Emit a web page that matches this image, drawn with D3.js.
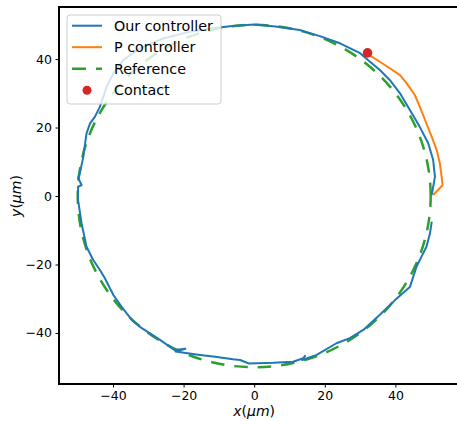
<!DOCTYPE html>
<html>
<head>
<meta charset="utf-8">
<script src="https://cdn.jsdelivr.net/npm/d3@7"></script>
<style>
body { margin: 0; background: #fff; }
text { font-family: "DejaVu Sans", sans-serif; fill: #000; }
</style>
</head>
<body>
<script>
// trajectories (x, y in um)
var ourX = [50.3, 51.2, 50.7, 49.3, 46.9, 44.1, 41.3, 38.4, 35.6, 32.8, 30, 24.3, 18.6, 12.9, 6, 0,
    -6.9, -11.6, -18.2, -25.8, -32.4, -37.1, -39.9, -41.8, -43.7, -45.1, -46.5, -47.5, -47.9, -48.4,
    -49.4, -49.9, -48.9, -49.9, -49.9, -48.9, -47.5, -45.6, -43.7, -42.3, -39.9, -37.6, -34.7, -32.4,
    -29.5, -26.7, -22.5, -19.5, -22.3, -15.4, -11.6, -6, -4, -1.5, 5.4, 11, 13.9, 14.4, 13.6, 17.7,
    23.3, 27.1, 30.9, 35.6, 39.9, 44.1, 46, 47.4, 48.8, 49.8, 50.3];
var ourY = [0.3, 5.6, 10.5, 15.4, 20.2, 25.1, 30.0, 33.9, 36.8, 39.2, 41.7, 44.6, 46.7, 48.5, 49.5, 50.1,
    49.6, 49, 48, 46, 43.1, 39.7, 35.8, 31.9, 26.1, 23.2, 21.2, 18.3, 15.4, 11.5,
    6.6, 5.3, 3.2, 2.7, -1.2, -8, -14.8, -18.7, -21.6, -24, -28.9, -32.3, -36.2, -38.2,
    -40.1, -42, -45, -44.6, -45.4, -46.4, -46.9, -47.7, -47.9, -48.9, -48.7, -48.4, -47.4, -46.7, -47.9, -46.4,
    -43, -41.5, -39.1, -34.7, -30.4, -26.6, -20.6, -17.7, -14.8, -10.9, -7.5];

var pX = [50.7, 52.1, 53.4, 53.1, 52.6, 51.7, 50.3, 48.4, 46.9, 45.5, 43.2, 41.3, 38.4, 35.6, 33.3, 32.1];
var pY = [0.3, 1.8, 3.2, 5.6, 9.5, 13.4, 17.3, 22.2, 26.1, 29.5, 32.9, 35.3, 37.3, 39.2, 40.7, 41.8];

var refRadius = 50;
var contact = [32.1, 41.8];

var xTicks = [-40, -20, 0, 20, 40];
var yTicks = [-40, -20, 0, 20, 40];
var legendNames = ["Our controller", "P controller", "Reference", "Contact"];

var width = 457, height = 421;
var svg = d3.select("body").append("svg")
    .attr("width", width)
    .attr("height", height);

var x = d3.scaleLinear().domain([-55.3, 58.5]).range([59, 460.7]);
var y = d3.scaleLinear().domain([-54.9, 55.2]).range([384, 7]);

var blue = "#1f77b4", orange = "#ff7f0e", green = "#2ca02c", red = "#d62728";

var line = d3.line()
    .x(function(d){ return x(d[0]); })
    .y(function(d){ return y(d[1]); });

// reference circle, drawn ccw so the dashes start like the original
svg.append("g")
    .attr("transform", "translate(" + x(0) + "," + y(0) + ") scale(1,-1)")
    .append("ellipse")
    .attr("rx", x(refRadius) - x(0))
    .attr("ry", y(0) - y(refRadius))
    .style("fill", "none")
    .style("stroke", green)
    .style("stroke-width", 2.5)
    .style("stroke-dasharray", "13.5,10");

svg.append("path")
    .datum(d3.zip(ourX, ourY))
    .attr("d", line)
    .style("fill", "none")
    .style("stroke", blue)
    .style("stroke-width", 2)
    .style("stroke-linejoin", "round");

svg.append("path")
    .datum(d3.zip(pX, pY))
    .attr("d", line)
    .style("fill", "none")
    .style("stroke", orange)
    .style("stroke-width", 2)
    .style("stroke-linejoin", "round");

svg.append("circle")
    .attr("cx", x(contact[0]))
    .attr("cy", y(contact[1]))
    .attr("r", 4.8)
    .style("fill", red);

// axes
var xAxis = svg.append("g")
    .attr("transform", "translate(0," + y.range()[0] + ")")
    .call(d3.axisBottom(x).tickValues(xTicks).tickSize(3.5).tickPadding(3.5)
        .tickFormat(function(d){ return d < 0 ? "\u2212" + (-d) : d; }));
var yAxis = svg.append("g")
    .attr("transform", "translate(" + x.range()[0] + ",0)")
    .call(d3.axisLeft(y).tickValues(yTicks).tickSize(3.5).tickPadding(3.5)
        .tickFormat(function(d){ return d < 0 ? "\u2212" + (-d) : d; }));
[xAxis, yAxis].forEach(function(g){
    g.select(".domain").remove();
    g.selectAll("line").style("stroke", "#000").style("stroke-width", 1);
    g.selectAll("text").style("font-size", "12.5px").style("font-family", "DejaVu Sans");
});

svg.append("rect")
    .attr("x", x.range()[0])
    .attr("y", y.range()[1])
    .attr("width", x.range()[1] - x.range()[0])
    .attr("height", y.range()[0] - y.range()[1])
    .style("fill", "none")
    .style("stroke", "#000")
    .style("stroke-width", 2);

// axis labels (mathtext style)
function mathLabel(sel, v) {
    sel.append("tspan").style("font-style", "italic").text(v);
    sel.append("tspan").text("(");
    sel.append("tspan").style("font-style", "italic").text("\u03bcm");
    sel.append("tspan").text(")");
}
svg.append("text")
    .attr("x", x(0))
    .attr("y", 416)
    .attr("text-anchor", "middle")
    .style("font-size", "14px")
    .call(mathLabel, "x");
svg.append("text")
    .attr("transform", "translate(21," + y(0) + ") rotate(-90)")
    .attr("text-anchor", "middle")
    .style("font-size", "14px")
    .call(mathLabel, "y");

// legend
var legend = svg.append("g");
legend.append("rect")
    .attr("x", 67).attr("y", 15)
    .attr("width", 154).attr("height", 89)
    .attr("rx", 3)
    .style("fill", "#fff")
    .style("fill-opacity", 0.8)
    .style("stroke", "#ccc")
    .style("stroke-width", 1);

var rows = legend.selectAll("g.row")
    .data(legendNames)
    .enter()
    .append("g")
    .attr("transform", function(d, i){ return "translate(0," + (25.7 + i * 21.5) + ")"; });

rows.each(function(d, i){
    var g = d3.select(this);
    if (i < 3) {
        g.append("line")
            .attr("x1", 72).attr("x2", 102)
            .attr("y1", 0).attr("y2", 0)
            .style("stroke", [blue, orange, green][i])
            .style("stroke-width", i == 2 ? 2.5 : 2)
            .style("stroke-dasharray", i == 2 ? "14,10" : null);
    } else {
        g.append("circle").attr("cx", 87).attr("cy", 0).attr("r", 4.5).style("fill", red);
    }
    g.append("text")
        .attr("x", 114)
        .attr("y", 5)
        .style("font-size", "14.3px")
        .text(d);
});
</script>
</body>
</html>
